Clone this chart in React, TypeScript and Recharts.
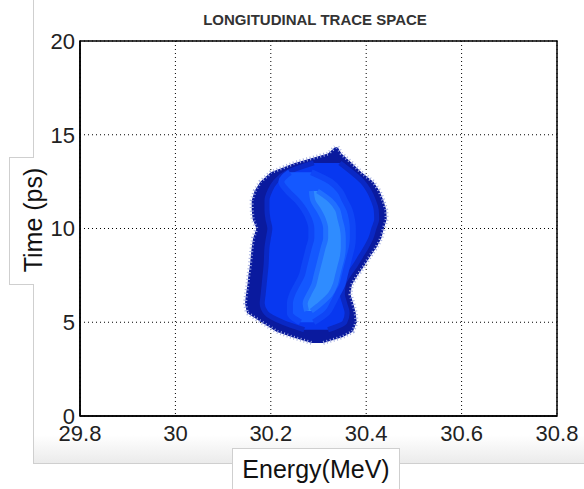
import React from 'react';
import { ComposedChart, Area, XAxis, YAxis, CartesianGrid, ReferenceArea } from 'recharts';

const energyTicks = [29.8, 30, 30.2, 30.4, 30.6, 30.8];
const timeTicks = [0, 5, 10, 15, 20];

// each density layer: time rows (ps) and the energy extent (MeV) at that time
const edgeTimes = [3.9, 4.2, 4.5, 5.0, 5.5, 6.0, 6.5, 7.0, 7.5, 8.0, 8.5, 9.0, 9.5, 10.0, 10.5, 11.0, 11.5, 12.0, 12.5, 13.0, 13.5, 14.0, 14.35];
const edgeLeft = [30.285, 30.245, 30.212, 30.18, 30.15, 30.146, 30.148, 30.151, 30.153, 30.156, 30.158, 30.16, 30.163, 30.17, 30.162, 30.16, 30.16, 30.166, 30.178, 30.2, 30.25, 30.32, 30.335];
const edgeRight = [30.31, 30.35, 30.372, 30.38, 30.378, 30.373, 30.367, 30.37, 30.382, 30.396, 30.408, 30.422, 30.432, 30.437, 30.443, 30.442, 30.436, 30.428, 30.415, 30.39, 30.37, 30.348, 30.34];

const bodyTimes = [4.6, 5.0, 5.5, 6.0, 6.5, 7.0, 7.5, 8.0, 8.5, 9.0, 9.5, 10.0, 10.5, 11.0, 11.5, 12.0, 12.5, 13.0, 13.5];
const bodyLeft = [30.27, 30.225, 30.19, 30.182, 30.184, 30.186, 30.188, 30.19, 30.191, 30.192, 30.195, 30.198, 30.194, 30.192, 30.192, 30.198, 30.21, 30.235, 30.29];
const bodyRight = [30.32, 30.355, 30.36, 30.355, 30.35, 30.352, 30.362, 30.376, 30.388, 30.4, 30.41, 30.416, 30.422, 30.421, 30.415, 30.406, 30.392, 30.37, 30.345];

const glowTimes = [5.0, 5.5, 6.0, 6.5, 7.0, 7.5, 8.0, 8.5, 9.0, 9.5, 10.0, 10.5, 11.0, 11.5, 12.0, 12.5, 13.0];
const glowLeft = [30.262, 30.24, 30.24, 30.245, 30.255, 30.265, 30.27, 30.275, 30.28, 30.285, 30.285, 30.28, 30.27, 30.255, 30.235, 30.222, 30.24];
const glowRight = [30.29, 30.318, 30.33, 30.34, 30.35, 30.355, 30.36, 30.365, 30.37, 30.372, 30.372, 30.37, 30.365, 30.355, 30.345, 30.325, 30.285];

const coreTimes = [5.6, 6.0, 6.5, 7.0, 7.5, 8.0, 8.5, 9.0, 9.5, 10.0, 10.5, 11.0, 11.5, 12.0];
const coreLeft = [30.275, 30.272, 30.28, 30.29, 30.295, 30.3, 30.305, 30.31, 30.315, 30.315, 30.31, 30.3, 30.288, 30.285];
const coreRight = [30.285, 30.305, 30.325, 30.335, 30.34, 30.345, 30.35, 30.352, 30.352, 30.35, 30.345, 30.34, 30.325, 30.298];

const layer = (times: number[], left: number[], right: number[]) =>
  times.map((t, i) => ({ t, e: [left[i], right[i]] }));

const edgeRows = layer(edgeTimes, edgeLeft, edgeRight);
const bodyRows = layer(bodyTimes, bodyLeft, bodyRight);
const glowRows = layer(glowTimes, glowLeft, glowRight);
const coreRows = layer(coreTimes, coreLeft, coreRight);

const font = 'Liberation Sans, Arial, sans-serif';
const tickStyle = { fontFamily: font, fontSize: 22, fill: '#222' };

export default function App() {
  return (
    <div style={{ position: 'absolute', left: 0, top: 0, width: 584, height: 489, background: '#fff', overflow: 'hidden' }}>
      {/* slide frame behind the figure */}
      <div style={{ position: 'absolute', left: 33, top: -2, width: 560, height: 465, borderLeft: '1px solid #cfcfcf', borderBottom: '1px solid #cfcfcf', background: 'linear-gradient(to bottom, #ffffff 0%, #ffffff 94%, #ebebeb 100%)' }} />
      <div style={{ position: 'absolute', left: 0, top: 0 }}>
        <ComposedChart layout="vertical" width={584} height={489} data={edgeRows} margin={{ top: 41, right: 27, bottom: 0, left: 0 }}>
          <CartesianGrid stroke="#000" strokeDasharray="1 3" fill="#fff" />
          <XAxis
            type="number"
            domain={[29.8, 30.8]}
            ticks={energyTicks}
            height={73}
            tickLine={false}
            tickSize={0}
            tickMargin={9}
            tick={tickStyle}
            axisLine={{ stroke: '#000', strokeWidth: 1.5 }}
            allowDataOverflow
          />
          <YAxis
            type="number"
            dataKey="t"
            domain={[0, 20]}
            ticks={timeTicks}
            reversed
            width={80}
            tickLine={false}
            tickSize={0}
            tickMargin={5}
            tick={tickStyle}
            axisLine={{ stroke: '#000', strokeWidth: 1.5 }}
          />
          <Area data={edgeRows} dataKey="e" type="linear" fill="#0a1a9e" fillOpacity={1} stroke="#a4aee2" strokeWidth={4} strokeDasharray="1 2.5" dot={false} activeDot={false} isAnimationActive={false} />
          <Area data={bodyRows} dataKey="e" type="monotone" fill="#0838f0" fillOpacity={1} stroke="#0a28c4" strokeWidth={5} dot={false} activeDot={false} isAnimationActive={false} />
          <Area data={glowRows} dataKey="e" type="monotone" fill="#1458ff" fillOpacity={1} stroke="#0f46f6" strokeWidth={6} dot={false} activeDot={false} isAnimationActive={false} />
          <Area data={coreRows} dataKey="e" type="monotone" fill="#2f8cff" fillOpacity={1} stroke="#2170ff" strokeWidth={5} dot={false} activeDot={false} isAnimationActive={false} />
          <ReferenceArea x1={29.8} x2={30.8} y1={0} y2={20} fill="none" stroke="#000" strokeWidth={1.5} ifOverflow="visible" />
        </ComposedChart>
      </div>
      <div style={{ position: 'absolute', left: 0, width: 630, top: 11, textAlign: 'center', fontFamily: font, fontWeight: 'bold', fontSize: 15, color: '#333' }}>
        LONGITUDINAL TRACE SPACE
      </div>
      {/* y axis label box */}
      <div style={{ position: 'absolute', left: 9, top: 157, width: 24, height: 126, background: '#fff', borderLeft: '1px solid #cfcfcf', borderTop: '1px solid #cfcfcf', borderBottom: '1px solid #cfcfcf' }} />
      <div style={{ position: 'absolute', left: 33 - 80, top: 220 - 15, width: 160, height: 30, lineHeight: '30px', textAlign: 'center', transform: 'rotate(-90deg)', fontFamily: font, fontSize: 25, color: '#111' }}>
        Time (ps)
      </div>
      {/* x axis label box */}
      <div style={{ position: 'absolute', left: 232, top: 448, width: 166, height: 44, background: '#fff', borderLeft: '1px solid #cfcfcf', borderTop: '1px solid #cfcfcf', borderRight: '1px solid #cfcfcf' }} />
      <div style={{ position: 'absolute', left: 232, top: 455, width: 168, textAlign: 'center', fontFamily: font, fontSize: 25, color: '#111' }}>
        Energy(MeV)
      </div>
    </div>
  );
}
